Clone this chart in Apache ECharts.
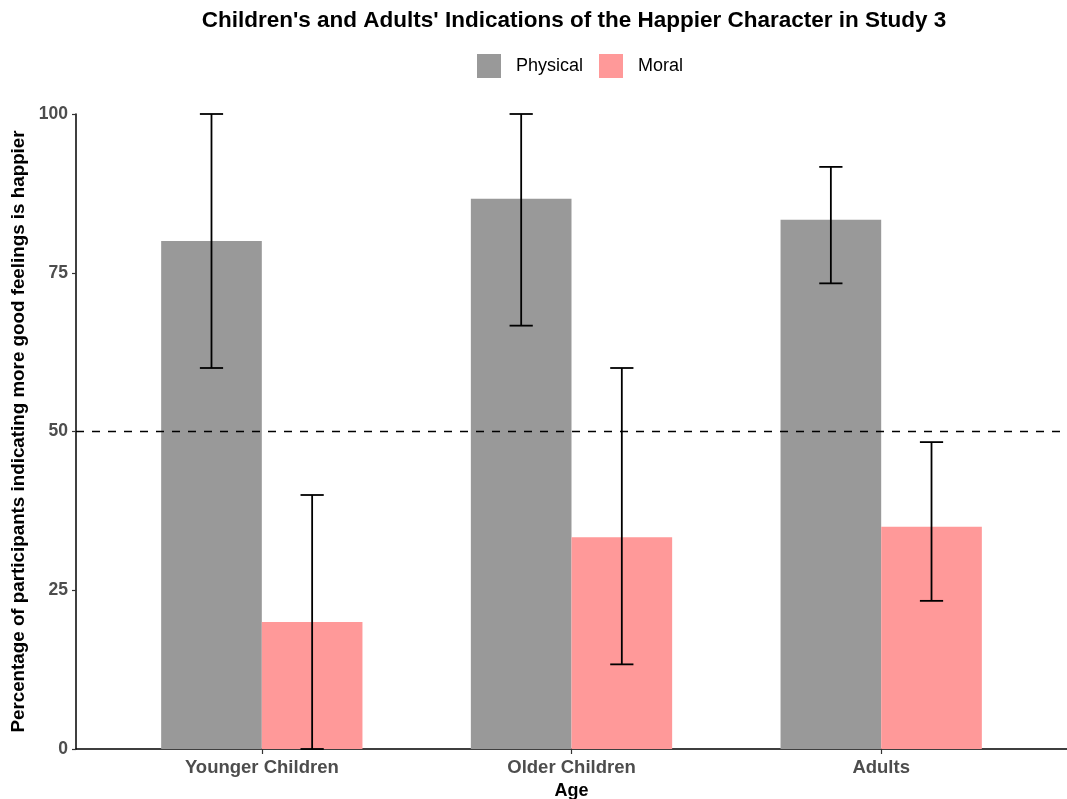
<!DOCTYPE html>
<html>
<head>
<meta charset="utf-8">
<title>Study 3</title>
<script src="https://cdn.jsdelivr.net/npm/echarts@6/dist/echarts.min.js"></script>
<style>
  html, body { margin: 0; padding: 0; background: #fff; }
  #chart { width: 1067px; height: 799px; }
</style>
</head>
<body>
<div id="chart"></div>
<script>
// Age groups and conditions
const ageGroups = ['Younger Children', 'Older Children', 'Adults'];
const conditions = ['Physical', 'Moral'];

// Percent of participants picking the character with more good feelings as happier
const physicalPct = [80, 86.67, 83.33];
const moralPct = [20, 33.33, 35];

// Error bar bounds
const physicalLow = [60, 66.67, 73.33];
const physicalHigh = [100, 100, 91.67];
const moralLow = [0, 13.33, 23.33];
const moralHigh = [40, 60, 48.33];

// Chance level
const chanceLevel = 50;

// Y axis ticks
const yTicks = [0, 25, 50, 75, 100];

const colors = { Physical: '#999999', Moral: '#FF9999' };
const barWidth = 0.325;     // per bar, in category units
const dodge = barWidth / 2; // offset of each bar from the category centre
const capWidth = 0.075;

const FONT = '"Liberation Sans", Arial, Helvetica, sans-serif';

function barData(values, offset) {
  return values.map((v, i) => [i + 1 + offset, v]);
}
function errData(lows, highs, offset) {
  return lows.map((lo, i) => [i + 1 + offset, lo, highs[i]]);
}

function renderBar(color) {
  return function (params, api) {
    const x = api.value(0), y = api.value(1);
    const p0 = api.coord([x - barWidth / 2, y]);
    const p1 = api.coord([x + barWidth / 2, 0]);
    return {
      type: 'rect',
      shape: { x: p0[0], y: p0[1], width: p1[0] - p0[0], height: p1[1] - p0[1] },
      style: { fill: color }
    };
  };
}

function renderErr(params, api) {
  const x = api.value(0), lo = api.value(1), hi = api.value(2);
  const top = api.coord([x, hi]);
  const bot = api.coord([x, lo]);
  const l = api.coord([x - capWidth / 2, hi])[0];
  const r = api.coord([x + capWidth / 2, hi])[0];
  const style = { stroke: '#000', lineWidth: 1.8 };
  return {
    type: 'group',
    children: [
      { type: 'line', shape: { x1: top[0], y1: top[1], x2: bot[0], y2: bot[1] }, style },
      { type: 'line', shape: { x1: l, y1: top[1], x2: r, y2: top[1] }, style },
      { type: 'line', shape: { x1: l, y1: bot[1], x2: r, y2: bot[1] }, style }
    ]
  };
}

const chart = echarts.init(document.getElementById('chart'), null, { renderer: 'canvas' });

chart.setOption({
  animation: false,
  backgroundColor: '#fff',
  title: {
    text: "Children's and Adults' Indications of the Happier Character in Study 3",
    left: 569,
    textAlign: 'center',
    top: 4,
    textStyle: { fontFamily: FONT, fontWeight: 'bold', fontSize: 22.5, color: '#000' }
  },
  legend: {
    data: conditions.map(c => ({ name: c, itemStyle: { color: colors[c] } })),
    left: 477,
    top: 54,
    padding: 0,
    itemWidth: 24,
    itemHeight: 24,
    itemGap: 16,
    icon: 'rect',
    textStyle: { fontFamily: FONT, fontSize: 18, color: '#000', padding: [0, 0, 0, 10] }
  },
  grid: { left: 76, right: 0, top: 114, bottom: 50, containLabel: false, outerBoundsMode: 'none' },
  xAxis: {
    type: 'value',
    min: 0.4,
    max: 3.6,
    name: 'Age',
    nameLocation: 'middle',
    nameGap: 31,
    nameTextStyle: { fontFamily: FONT, fontWeight: 'bold', fontSize: 18, color: '#000' },
    splitLine: { show: false },
    axisLine: { show: true, lineStyle: { color: '#000', width: 1.5 } },
    axisTick: { show: true, customValues: [1, 2, 3], length: 5, lineStyle: { color: '#333', width: 1.2 } },
    axisLabel: {
      customValues: [1, 2, 3],
      formatter: v => ageGroups[Math.round(v) - 1] || '',
      fontFamily: FONT, fontWeight: 'bold', fontSize: 18.5, color: '#4D4D4D', margin: 9
    }
  },
  yAxis: {
    type: 'value',
    min: 0,
    max: 100,
    interval: 25,
    name: 'Percentage of participants indicating more good feelings is happier',
    nameLocation: 'middle',
    nameGap: 47,
    nameTextStyle: { fontFamily: FONT, fontWeight: 'bold', fontSize: 18.8, color: '#000' },
    splitLine: { show: false },
    axisLine: { show: true, lineStyle: { color: '#000', width: 1.5 } },
    axisTick: { show: true, length: 4, lineStyle: { color: '#333', width: 1.2 } },
    axisLabel: {
      customValues: yTicks,
      fontFamily: FONT, fontWeight: 'bold', fontSize: 17.5, color: '#4D4D4D', margin: 8
    }
  },
  series: [
    {
      name: 'Physical', type: 'custom', renderItem: renderBar(colors.Physical),
      itemStyle: { color: colors.Physical },
      data: barData(physicalPct, -dodge), encode: { x: 0, y: 1 }, z: 2
    },
    {
      name: 'Moral', type: 'custom', renderItem: renderBar(colors.Moral),
      itemStyle: { color: colors.Moral },
      data: barData(moralPct, dodge), encode: { x: 0, y: 1 }, z: 2
    },
    {
      name: 'chance', type: 'line', symbol: 'none', silent: true, z: 3,
      data: [[0.4, chanceLevel], [3.6, chanceLevel]],
      lineStyle: { color: '#000', width: 1.7, type: [8, 8] }
    },
    {
      name: 'Physical error', type: 'custom', renderItem: renderErr, z: 4,
      data: errData(physicalLow, physicalHigh, -dodge), encode: { x: 0, y: [1, 2] }
    },
    {
      name: 'Moral error', type: 'custom', renderItem: renderErr, z: 4,
      data: errData(moralLow, moralHigh, dodge), encode: { x: 0, y: [1, 2] }
    }
  ]
});
</script>
</body>
</html>
